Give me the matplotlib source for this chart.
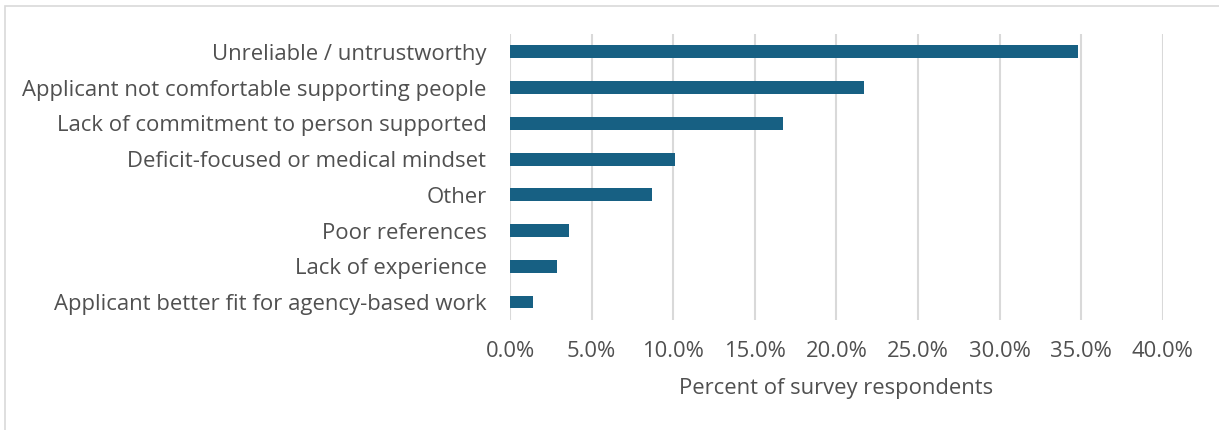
import matplotlib.pyplot as plt
import numpy as np
from matplotlib.patches import Rectangle
from matplotlib.ticker import FuncFormatter

reasons = ["Unreliable / untrustworthy",
           "Applicant not comfortable supporting people",
           "Lack of commitment to person supported",
           "Deficit-focused or medical mindset",
           "Other",
           "Poor references",
           "Lack of experience",
           "Applicant better fit for agency-based work"]
percent = [34.8, 21.7, 16.7, 10.1, 8.7, 3.6, 2.9, 1.4]

bar_color = "#176083"
text_color = "#505050"
grid_color = "#d9d9d9"

plt.rcParams['font.family'] = ['Open Sans', 'DejaVu Sans']

fig = plt.figure(figsize=(12.19, 4.30), dpi=100)
fig.patches.append(Rectangle((5/1219, -0.05), 1.1, 1 - 6/430 + 0.05, transform=fig.transFigure,
                             fill=False, edgecolor=grid_color, linewidth=1.2))
ax = fig.add_axes([0.4184, 0.256, 0.954 - 0.4184, 0.921 - 0.256])

y = np.arange(len(reasons))
ax.barh(y, percent, height=0.36, color=bar_color, zorder=3)
ax.set_ylim(len(reasons) - 0.5, -0.5)
ax.set_yticks(y)
ax.set_yticklabels(reasons, fontsize=15.9, color=text_color)

ax.set_xlim(0, 40)
ax.set_xticks(np.arange(0, 41, 5))
ax.xaxis.set_major_formatter(FuncFormatter(lambda v, p: "%.1f%%" % v))
ax.tick_params(axis='x', labelsize=15.8, colors=text_color, length=0, pad=15)
ax.tick_params(axis='y', length=0, pad=17)
ax.grid(axis='x', color=grid_color, linewidth=1.5, zorder=0)
for s in ax.spines.values():
    s.set_visible(False)

ax.set_xlabel("Percent of survey respondents", fontsize=15.8, color=text_color, labelpad=12)

fig.savefig("out.png", dpi=100)
